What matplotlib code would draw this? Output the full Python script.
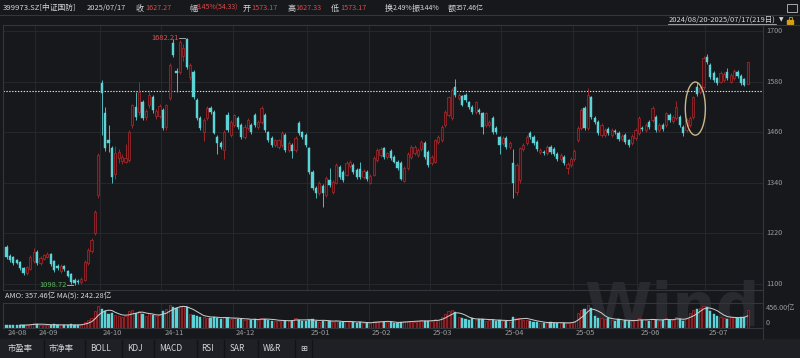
import numpy as np
import matplotlib.pyplot as plt
from matplotlib.patches import Ellipse, Rectangle

plt.rcParams['font.family'] = ['Noto Sans CJK SC', 'DejaVu Sans']

# daily bars 2024/08/20 - 2025/07/17, one line per month
opens = [
    1188, 1166, 1163, 1157, 1152, 1138, 1126, 1136, 1155,
    1176, 1150, 1160, 1165, 1170, 1155, 1143, 1130, 1142, 1130, 1124, 1110, 1108, 1104, 1109, 1150, 1178, 1221, 1311,
    1577, 1505, 1441, 1422, 1362, 1398, 1392, 1390, 1394, 1477, 1520, 1508, 1531, 1496, 1524, 1543, 1498, 1498,
    1513, 1472, 1541, 1671, 1606, 1603, 1640, 1680, 1590, 1603, 1536, 1494, 1460, 1494, 1517, 1508, 1449, 1434, 1418, 1501, 1453,
    1477, 1494, 1477, 1448, 1470, 1477, 1501, 1472, 1484, 1501, 1460, 1446, 1430, 1425, 1430, 1453, 1418, 1430, 1418, 1482, 1460, 1453,
    1422, 1366, 1328, 1316, 1333, 1311, 1347, 1318, 1340, 1378, 1366, 1359, 1380, 1383, 1371, 1373, 1354, 1366,
    1340, 1359, 1394, 1406, 1422, 1400, 1415, 1401, 1390, 1387, 1345, 1375, 1401, 1410, 1406, 1420, 1434, 1413,
    1387, 1390, 1437, 1441, 1477, 1501, 1494, 1567, 1541, 1545, 1548, 1531, 1520, 1508, 1513, 1505, 1477, 1477, 1494, 1470, 1448,
    1434, 1446, 1425, 1387, 1318, 1346, 1420, 1434, 1458, 1449, 1437, 1413, 1413, 1410, 1425, 1420, 1408, 1396, 1401, 1375, 1382,
    1396, 1441, 1470, 1517, 1470, 1543, 1494, 1484, 1453, 1453, 1468, 1453, 1463, 1458, 1444, 1453, 1441, 1434, 1446,
    1458, 1470, 1465, 1484, 1489, 1496, 1465, 1477, 1477, 1501, 1486, 1494, 1496, 1472, 1465, 1477, 1496, 1567, 1555, 1567,
    1638, 1619, 1600, 1588, 1580, 1584, 1603, 1580, 1588, 1603, 1593, 1585, 1573.17,
]
highs = [
    1192, 1170, 1166, 1160, 1155, 1141, 1143, 1168, 1185,
    1180, 1166, 1172, 1176, 1173, 1158, 1147, 1148, 1146, 1133, 1127, 1114, 1112, 1116, 1156, 1185, 1210, 1276, 1410,
    1584, 1520, 1478, 1428, 1428, 1420, 1408, 1432, 1465, 1528, 1556, 1580, 1536, 1514, 1560, 1548, 1514, 1526,
    1518, 1528, 1624, 1680, 1612, 1678, 1668, 1682.21, 1624, 1608, 1540, 1498, 1494, 1521, 1521, 1512, 1453, 1438, 1465, 1508, 1488,
    1504, 1498, 1481, 1480, 1493, 1481, 1505, 1488, 1522, 1505, 1464, 1450, 1445, 1445, 1462, 1457, 1438, 1434, 1450, 1486, 1464, 1457,
    1426, 1370, 1332, 1344, 1337, 1356, 1375, 1346, 1387, 1382, 1370, 1391, 1394, 1387, 1375, 1390, 1372, 1370,
    1360, 1403, 1422, 1424, 1426, 1414, 1419, 1405, 1394, 1391, 1379, 1412, 1429, 1429, 1422, 1441, 1438, 1417,
    1405, 1445, 1453, 1476, 1512, 1547, 1564, 1585, 1552, 1549, 1552, 1535, 1524, 1535, 1517, 1509, 1509, 1488, 1498, 1474, 1452,
    1450, 1450, 1438, 1420, 1386, 1426, 1434, 1453, 1462, 1453, 1441, 1422, 1417, 1429, 1429, 1424, 1412, 1410, 1405, 1389, 1400,
    1419, 1474, 1517, 1521, 1565, 1547, 1498, 1488, 1481, 1469, 1472, 1469, 1467, 1462, 1455, 1457, 1445, 1455, 1469,
    1498, 1474, 1481, 1488, 1521, 1500, 1481, 1481, 1509, 1505, 1500, 1535, 1500, 1476, 1493, 1498, 1547, 1578, 1569, 1640,
    1645, 1623, 1604, 1592, 1604, 1602, 1612, 1600, 1609, 1607, 1597, 1589, 1627.33,
]
lows = [
    1160, 1153, 1146, 1147, 1134, 1122, 1121, 1133, 1150,
    1146, 1146, 1156, 1161, 1143, 1128, 1134, 1126, 1131, 1116, 1100, 1098.72, 1101, 1100, 1106, 1146, 1174, 1216, 1305,
    1453, 1415, 1412, 1340, 1350, 1388, 1384, 1386, 1390, 1470, 1490, 1500, 1490, 1488, 1518, 1506, 1492, 1494,
    1466, 1465, 1536, 1638, 1555, 1598, 1630, 1610, 1584, 1538, 1489, 1465, 1440, 1490, 1504, 1455, 1408, 1420, 1397, 1460, 1449,
    1473, 1468, 1444, 1444, 1466, 1456, 1473, 1468, 1480, 1461, 1437, 1426, 1426, 1421, 1426, 1414, 1414, 1398, 1414, 1454, 1444, 1426,
    1362, 1324, 1304, 1312, 1283, 1307, 1331, 1314, 1336, 1350, 1343, 1355, 1376, 1362, 1350, 1350, 1350, 1345,
    1336, 1355, 1390, 1402, 1396, 1396, 1395, 1386, 1371, 1346, 1341, 1371, 1397, 1406, 1402, 1416, 1397, 1378,
    1383, 1386, 1433, 1437, 1473, 1497, 1490, 1544, 1537, 1521, 1532, 1516, 1504, 1504, 1504, 1455, 1473, 1473, 1456, 1456, 1408,
    1430, 1421, 1421, 1304, 1310, 1340, 1416, 1430, 1445, 1430, 1416, 1409, 1407, 1406, 1409, 1404, 1392, 1392, 1383, 1360, 1378,
    1392, 1437, 1466, 1466, 1466, 1492, 1480, 1454, 1449, 1449, 1454, 1449, 1456, 1440, 1440, 1433, 1426, 1430, 1442,
    1454, 1464, 1461, 1468, 1485, 1461, 1461, 1464, 1473, 1485, 1482, 1490, 1473, 1452, 1461, 1473, 1492, 1546, 1551, 1563,
    1622, 1587, 1580, 1573, 1576, 1580, 1584, 1576, 1584, 1589, 1573, 1569, 1573.17,
]
closes = [
    1165, 1157, 1150, 1150, 1138, 1126, 1140, 1163, 1176,
    1150, 1162, 1168, 1172, 1147, 1133, 1138, 1143, 1135, 1120, 1104, 1103, 1105, 1112, 1152, 1180, 1205, 1271, 1406,
    1553, 1422, 1434, 1354, 1410, 1412, 1402, 1400, 1460, 1524, 1496, 1555, 1494, 1510, 1548, 1512, 1510, 1522,
    1470, 1524, 1619, 1643, 1600, 1674, 1660, 1615, 1619, 1543, 1494, 1470, 1489, 1517, 1508, 1458, 1434, 1425, 1460, 1465, 1484,
    1500, 1472, 1448, 1472, 1489, 1460, 1477, 1484, 1517, 1465, 1441, 1430, 1441, 1441, 1458, 1418, 1434, 1415, 1446, 1458, 1448, 1430,
    1366, 1328, 1316, 1340, 1316, 1352, 1335, 1342, 1383, 1354, 1347, 1387, 1390, 1366, 1354, 1354, 1368, 1349,
    1356, 1399, 1418, 1420, 1400, 1410, 1399, 1390, 1375, 1350, 1375, 1408, 1425, 1425, 1418, 1437, 1401, 1382,
    1401, 1441, 1449, 1472, 1508, 1543, 1560, 1548, 1548, 1525, 1536, 1520, 1508, 1531, 1508, 1472, 1505, 1484, 1460, 1460, 1430,
    1446, 1425, 1434, 1340, 1382, 1422, 1430, 1449, 1449, 1434, 1420, 1418, 1411, 1425, 1413, 1408, 1396, 1406, 1387, 1385, 1396,
    1415, 1470, 1513, 1470, 1548, 1496, 1484, 1458, 1477, 1465, 1458, 1465, 1460, 1444, 1451, 1437, 1430, 1451, 1465,
    1494, 1468, 1477, 1472, 1517, 1465, 1477, 1468, 1505, 1489, 1496, 1520, 1477, 1458, 1489, 1494, 1543, 1550, 1565, 1636,
    1626, 1591, 1584, 1577, 1600, 1598, 1588, 1596, 1605, 1593, 1577, 1572.94, 1627.27,
]
# turnover, 亿
amounts = [
    70, 62, 66, 55, 60, 66, 72, 86, 95,
    82, 70, 64, 60, 72, 76, 60, 64, 58, 70, 76, 66, 62, 72, 130, 165, 205, 330, 440,
    380, 340, 280, 300, 260, 240, 230, 250, 330, 350, 300, 330, 270, 250, 290, 260, 240, 260,
    330, 380, 456, 420, 400, 440, 430, 420, 280, 260, 240, 230, 230, 210, 200, 230, 210, 190, 220, 200, 190,
    200, 180, 190, 170, 180, 160, 180, 170, 200, 180, 170, 150, 140, 150, 160, 150, 140, 150, 210, 170, 150, 140,
    170, 180, 150, 130, 150, 160, 140, 120, 150, 130, 120, 140, 130, 120, 110, 120, 110, 100,
    100, 140, 150, 140, 130, 120, 120, 110, 100, 130, 140, 150, 140, 120, 150, 160, 150, 140,
    140, 180, 170, 230, 280, 330, 350, 320, 220, 200, 190, 170, 200, 160, 190, 180, 150, 170, 160, 150, 170,
    140, 150, 130, 230, 200, 210, 170, 160, 150, 130, 120, 110, 100, 110, 120, 110, 100, 110, 100, 110, 120,
    150, 300, 350, 380, 450, 400, 240, 210, 200, 180, 210, 160, 150, 180, 140, 160, 150, 140, 160,
    200, 170, 160, 150, 190, 170, 150, 160, 200, 170, 160, 220, 180, 150, 210, 300, 360, 380, 400, 440,
    420, 330, 280, 250, 220, 210, 190, 220, 220, 200, 214, 219.94, 357.46,
]

month_labels = ['24-08', '24-09', '24-10', '24-11', '24-12', '25-01', '25-02',
                '25-03', '25-04', '25-05', '25-06', '25-07']
month_starts = [0, 9, 28, 46, 67, 89, 107, 125, 146, 167, 186, 206]
price_ticks = [1700, 1580, 1460, 1340, 1220, 1100]
guide_level = 1557

BG = '#16181c'
GRID = '#272a30'
LINE = '#33363c'
RED = '#b02a2f'
RED_FILL = '#3e1013'
CYAN = '#5cd3d6'
TXT = '#d6d6d6'
AX_TXT = '#9a9a9a'
VAL_RED = '#e04848'

W, H = 800, 358


def fx(px):
    return px / W


def fy(py):
    return 1 - py / H


def px_to_idx(px):
    return (px - 6.5) / 3.4


fig = plt.figure(figsize=(8, 3.58), dpi=100)
fig.patch.set_facecolor(BG)

o = np.array(opens, float)
h = np.array(highs, float)
l = np.array(lows, float)
c = np.array(closes, float)
amt = np.array(amounts, float)
idx = np.arange(len(c))
up = c >= o

# watermark
fig.text(fx(672), fy(326), 'Wind', ha='center', va='baseline', fontsize=44,
         fontweight='bold', color='#282a2f', zorder=-1, family='DejaVu Sans')

# price panel
ax = fig.add_axes([fx(3), fy(290), fx(763) - fx(3), fy(25) - fy(290)])
ax.set_facecolor('none')
ax.set_xlim(px_to_idx(3), px_to_idx(763))
ax.set_ylim(1085.8, 1714.2)
for p in price_ticks:
    ax.axhline(p, color=GRID, lw=0.6, zorder=0)
for s in month_starts[1:]:
    ax.axvline(s - 0.5, color=GRID, lw=0.6, zorder=0)
ax.axhline(guide_level, color='#e6e4d2', lw=0.8, ls=(0, (1.2, 1.4)), zorder=1)

col = np.where(up, RED, CYAN)
ax.vlines(idx, l, h, colors=col, lw=0.6, zorder=2)
body_lo = np.minimum(o, c)
body_h = np.maximum(np.abs(c - o), 1.6)
ax.bar(idx[up], body_h[up], bottom=body_lo[up], width=0.7, color=RED_FILL,
       edgecolor=RED, linewidth=0.5, zorder=3)
ax.bar(idx[~up], body_h[~up], bottom=body_lo[~up], width=0.7, color=CYAN,
       edgecolor=CYAN, linewidth=0.3, zorder=3)

ax.add_patch(Ellipse((202.6, 1516), 5.9, 126, fill=False, edgecolor='#c8b88a',
                     lw=1.0, zorder=4))

# high / low markers
hi_i = int(np.argmax(h))
lo_i = int(np.argmin(l))
ax.plot([hi_i - 2.2, hi_i - 0.4], [h[hi_i], h[hi_i]], color='#b8b8b8', lw=0.6)
ax.text(hi_i - 2.4, h[hi_i], f'{h[hi_i]:.2f}', color='#d9534f', fontsize=5.4,
        ha='right', va='center')
ax.plot([lo_i - 2.2, lo_i - 0.4], [l[lo_i], l[lo_i]], color='#b8b8b8', lw=0.6)
ax.text(lo_i - 2.4, l[lo_i], f'{l[lo_i]:.2f}', color='#5cb85c', fontsize=5.4,
        ha='right', va='center')

for sp in ax.spines.values():
    sp.set_color(LINE)
    sp.set_linewidth(0.8)
ax.set_xticks([])
ax.set_yticks([])

for p in price_ticks:
    ax.text(1.004, (p - 1085.8) / (1714.2 - 1085.8), str(p), transform=ax.transAxes,
            color=AX_TXT, fontsize=5.2, ha='left', va='center')

# turnover panel
axv = fig.add_axes([fx(3), fy(328.3), fx(763) - fx(3), fy(302.7) - fy(328.3)])
axv.set_facecolor('none')
axv.set_xlim(px_to_idx(3), px_to_idx(763))
axv.set_ylim(0, 500)
for s in month_starts[1:]:
    axv.axvline(s - 0.5, color=GRID, lw=0.6, zorder=0)
axv.bar(idx[up], amt[up], width=0.7, color=RED_FILL, edgecolor=RED,
        linewidth=0.5, zorder=2)
axv.bar(idx[~up], amt[~up], width=0.7, color=CYAN, edgecolor=CYAN,
        linewidth=0.3, zorder=2)
ma5 = np.convolve(amt, np.ones(5) / 5, mode='valid')
axv.plot(idx[4:], ma5, color='#d0d0d0', lw=0.7, zorder=3)
for sp in axv.spines.values():
    sp.set_color(LINE)
    sp.set_linewidth(0.8)
axv.set_xticks([])
axv.set_yticks([])
axv.text(1.004, 0.8, f'{amt.max():.2f}亿', transform=axv.transAxes, color=AX_TXT,
         fontsize=5.2, ha='left', va='center')
axv.text(1.004, 0.22, '0', transform=axv.transAxes, color=AX_TXT,
         fontsize=5.2, ha='left', va='center')

# frame lines running past the plots to the right edge
fig.add_artist(plt.Line2D([fx(763), 1], [fy(25), fy(25)], color=LINE, lw=0.8))
fig.add_artist(plt.Line2D([fx(763), fx(763)], [fy(25), fy(339)], color=LINE, lw=0.8))

# month labels
for s, lab in zip(month_starts, month_labels):
    xpix = 6.5 + 3.4 * (s - 0.5) + 3
    fig.text(fx(max(xpix, 7)), fy(333), lab, color=AX_TXT, fontsize=5.4,
             ha='left', va='center')

fig.text(fx(5), fy(296), f'AMO: {amt[-1]:.2f}亿 MA(5): {ma5[-1]:.2f}亿', color=TXT,
         fontsize=5.4, ha='left', va='center')

# header: labels and values
header = [
    (3, '399973.SZ[中证国防]', TXT, 5.6), (87, '2025/07/17', TXT, 5.4),
    (136, '收', TXT, 5.8), (145, '1627.27', VAL_RED, 5.2),
    (189, '幅', TXT, 5.8), (197, '3.45%(54.33)', VAL_RED, 5.0),
    (243, '开', TXT, 5.8), (251, '1573.17', VAL_RED, 5.2),
    (287, '高', TXT, 5.8), (295, '1627.33', VAL_RED, 5.2),
    (331, '低', TXT, 5.8), (340, '1573.17', VAL_RED, 5.2),
    (385, '换', TXT, 5.8), (393, '2.49%', TXT, 5.0),
    (412, '振', TXT, 5.8), (420, '3.44%', TXT, 5.0),
    (448, '额', TXT, 5.8), (456, '357.46亿', TXT, 5.0),
]
for xp, t, cc, fs in header:
    fig.text(fx(xp), fy(8), t, color=cc, fontsize=fs, ha='left', va='center')

fig.add_artist(plt.Line2D([0, 1], [fy(15), fy(15)], color=LINE, lw=0.8))
fig.text(fx(776), fy(19.5), '2024/08/20-2025/07/17(219日)', color=TXT, fontsize=5.4,
         ha='right', va='center')
fig.add_artist(plt.Line2D([fx(668), fx(776)], [fy(23.5), fy(23.5)], color=TXT, lw=0.5))
fig.text(fx(781), fy(19.5), '▼', color=TXT, fontsize=4.2, ha='center', va='center',
         family='DejaVu Sans')
fig.add_artist(Rectangle((fx(787), fy(24)), fx(6), fy(20) - fy(24), color='#d4a017',
                         transform=fig.transFigure))
fig.add_artist(Rectangle((fx(789), fy(20)), fx(3), fy(17) - fy(20), fill=False,
                         edgecolor='#d4a017', lw=0.6, transform=fig.transFigure))
fig.add_artist(Rectangle((fx(787), fy(12)), fx(10), fy(4) - fy(12), fill=False,
                         edgecolor='#a8a8a8', lw=0.7, transform=fig.transFigure))

# indicator tabs
fig.add_artist(Rectangle((0, 0), 1, fy(339), color='#1e2025', transform=fig.transFigure,
                         zorder=-0.5))
tabs = [(8, '市盈率'), (49, '市净率'), (90, 'BOLL'), (127, 'KDJ'), (159, 'MACD'),
        (201, 'RSI'), (230, 'SAR'), (263, 'W&R'), (300, '⊞')]
for xp, t in tabs:
    fig.text(fx(xp), fy(348.5), t, color=TXT, fontsize=6, ha='left', va='center')
for xp in [44, 85, 122, 154, 197, 224, 258, 295, 312]:
    fig.add_artist(plt.Line2D([fx(xp), fx(xp)], [fy(340), 0], color='#121317', lw=1.0))

fig.savefig('out.png', dpi=100, facecolor=BG)
